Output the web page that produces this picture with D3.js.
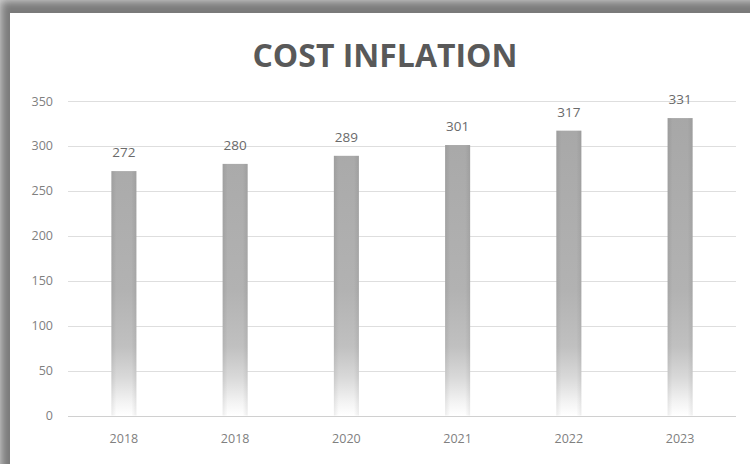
<!DOCTYPE html>
<html>
<head>
<meta charset="utf-8">
<script src="https://cdn.jsdelivr.net/npm/d3@7"></script>
<style>
  html, body { margin: 0; padding: 0; background: #ffffff; }
  svg { display: block; }
</style>
</head>
<body>
<script>
// Chart data
const categories = ["2018", "2018", "2020", "2021", "2022", "2023"];
const values = [272, 280, 289, 301, 317, 331];
const yTicks = [0, 50, 100, 150, 200, 250, 300, 350];
const title = "COST INFLATION";

const W = 750, H = 464;
const svg = d3.select("body").append("svg").attr("width", W).attr("height", H);
const defs = svg.append("defs");

// Soft drop shadow around the card
const blur = defs.append("filter").attr("id", "shadowBlur")
  .attr("x", "-10%").attr("y", "-10%").attr("width", "120%").attr("height", "120%");
blur.append("feGaussianBlur").attr("stdDeviation", 4);

svg.append("rect").attr("width", W).attr("height", H).attr("fill", "#d4d4d4");
svg.append("rect")
  .attr("x", 1).attr("y", 1).attr("width", W + 20).attr("height", H + 20)
  .attr("fill", "#7a7a7a").attr("filter", "url(#shadowBlur)");

// White card
svg.append("rect")
  .attr("x", 10).attr("y", 13).attr("width", W - 10).attr("height", H - 13)
  .attr("fill", "#ffffff");

// Scales
const x = d3.scaleBand().domain(d3.range(categories.length)).range([68, 736]).paddingInner(0.775).paddingOuter(0.39);
const y = d3.scaleLinear().domain([0, 350]).range([415.5, 101]);

// Bar fill: grey that fades out toward the baseline
const grad = defs.append("linearGradient").attr("id", "barFill")
  .attr("gradientUnits", "userSpaceOnUse")
  .attr("x1", 0).attr("x2", 0).attr("y1", y(0)).attr("y2", y(350));
[[0, "#ffffff"], [0.04, "#f4f4f4"], [0.12, "#d9d9d9"], [0.22, "#c0c0c0"], [0.4, "#b2b2b2"], [1, "#a6a6a6"]]
  .forEach(([o, c]) => grad.append("stop").attr("offset", o).attr("stop-color", c));

// Slight darker edges across each bar
const edge = defs.append("linearGradient").attr("id", "barEdge")
  .attr("x1", 0).attr("x2", 1).attr("y1", 0).attr("y2", 0);
[[0, 0.07], [0.2, 0.0], [0.8, 0.0], [1, 0.07]]
  .forEach(([o, a]) => edge.append("stop").attr("offset", o).attr("stop-color", "#000").attr("stop-opacity", a));

// Gridlines
svg.append("g").selectAll("line").data(yTicks).join("line")
  .attr("x1", 68).attr("x2", 736)
  .attr("y1", d => Math.round(y(d)) + 0.5).attr("y2", d => Math.round(y(d)) + 0.5)
  .attr("stroke", d => d === 0 ? "#d0d0d0" : "#dedede").attr("stroke-width", 1);

// Y axis labels
const yAxis = d3.axisLeft(y).tickValues(yTicks).tickSize(0).tickPadding(0);
const yg = svg.append("g").attr("transform", "translate(53,0)").call(yAxis);
yg.select(".domain").remove();
yg.selectAll("text")
  .attr("font-family", "'Open Sans', sans-serif").attr("font-size", 12.5)
  .attr("fill", "#808080");

// X axis labels
const xAxis = d3.axisBottom(x).tickFormat(i => categories[i]).tickSize(0).tickPadding(0);
const xg = svg.append("g").attr("transform", "translate(0,434)").call(xAxis);
xg.select(".domain").remove();
xg.selectAll("text")
  .attr("font-family", "'Open Sans', sans-serif").attr("font-size", 12.5)
  .attr("fill", "#808080");

// Bars
const bars = svg.append("g");
bars.selectAll("rect.bar").data(values).join("rect").attr("class", "bar")
  .attr("x", (d, i) => x(i)).attr("width", x.bandwidth())
  .attr("y", d => y(d)).attr("height", d => y(0) - y(d))
  .attr("fill", "url(#barFill)");
bars.selectAll("rect.edge").data(values).join("rect").attr("class", "edge")
  .attr("x", (d, i) => x(i)).attr("width", x.bandwidth())
  .attr("y", d => y(d)).attr("height", d => y(0) - y(d))
  .attr("fill", "url(#barEdge)");

// Value labels
svg.append("g").selectAll("text").data(values).join("text")
  .attr("x", (d, i) => x(i) + x.bandwidth() / 2)
  .attr("y", d => y(d) - 14)
  .attr("text-anchor", "middle")
  .attr("font-family", "'Open Sans', sans-serif").attr("font-size", 13.5)
  .attr("fill", "#6a6a6a")
  .text(d => d);

// Title
svg.append("text")
  .attr("x", 385).attr("y", 67)
  .attr("text-anchor", "middle")
  .attr("font-family", "'Open Sans', sans-serif").attr("font-weight", 700)
  .attr("font-size", 33)
  .attr("textLength", 265).attr("lengthAdjust", "spacingAndGlyphs")
  .attr("fill", "#595959")
  .text(title);
</script>
</body>
</html>
